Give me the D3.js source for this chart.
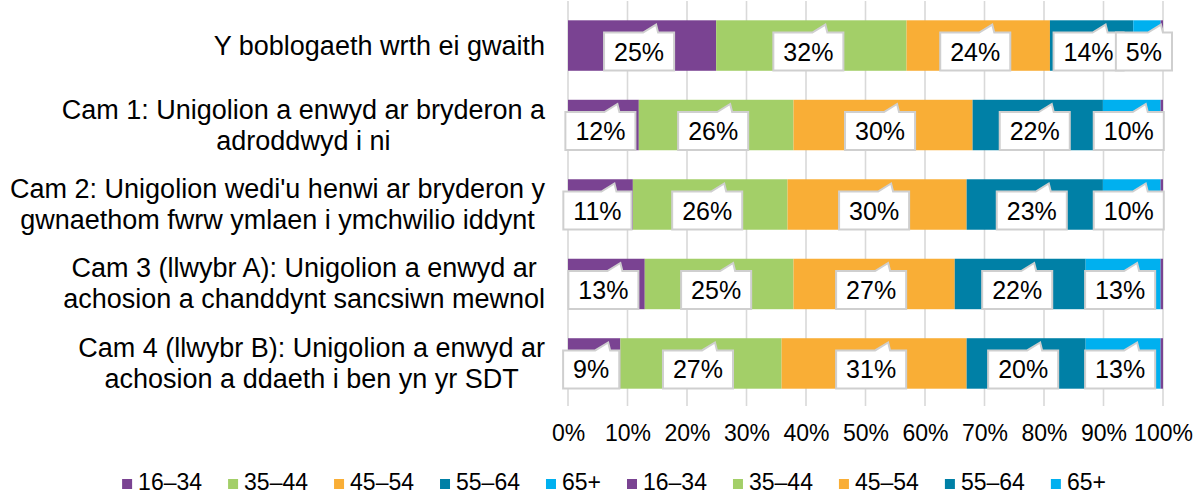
<!DOCTYPE html>
<html>
<head>
<meta charset="utf-8">
<script src="https://cdn.jsdelivr.net/npm/d3@7"></script>
<style>
  body { margin: 0; background: #fff; }
  svg { display: block; font-family: "Liberation Sans", Arial, sans-serif; }
</style>
</head>
<body>
<div id="chart"></div>
<script>
// categories (each entry is the wrapped lines of the label)
var categories = [
  ["Y boblogaeth wrth ei gwaith"],
  ["Cam 1: Unigolion a enwyd ar bryderon a", "adroddwyd i ni"],
  ["Cam 2: Unigolion wedi'u henwi ar bryderon y", "gwnaethom fwrw ymlaen i ymchwilio iddynt"],
  ["Cam 3 (llwybr A): Unigolion a enwyd ar", "achosion a chanddynt sancsiwn mewnol"],
  ["Cam 4 (llwybr B): Unigolion a enwyd ar", "achosion a ddaeth i ben yn yr SDT"]
];

var ageGroups = ["16–34", "35–44", "45–54", "55–64", "65+"];

// share of each stage by age group (%)
var share1634 = [24.9, 11.9, 10.9, 12.9, 8.8];
var share3544 = [32.0, 26.0, 26.0, 25.0, 27.1];
var share4554 = [24.1, 30.1, 30.1, 27.1, 31.1];
var share5564 = [14.0, 21.9, 22.9, 22.0, 20.0];
var share65   = [4.6, 9.7, 9.7, 12.6, 12.6];
// second copy of the series (only the first one shows, as a thin sliver)
var second1634 = [0.4, 0.4, 0.4, 0.4, 0.4];
var second3544 = [0, 0, 0, 0, 0];
var second4554 = [0, 0, 0, 0, 0];
var second5564 = [0, 0, 0, 0, 0];
var second65   = [0, 0, 0, 0, 0];

var xTicks = [0, 10, 20, 30, 40, 50, 60, 70, 80, 90, 100];
var colors = ["#7a4392", "#a3cf68", "#f9ae36", "#0080a6", "#00b0ef"];

var W = 1201, H = 498;
var plotLeft = 568, plotRight = 1163, plotTop = 6, plotBottom = 403;

var seriesKeys = ["a0", "a1", "a2", "a3", "a4", "b0", "b1", "b2", "b3", "b4"];
var seriesArrays = [share1634, share3544, share4554, share5564, share65,
                    second1634, second3544, second4554, second5564, second65];
var legendNames = ageGroups.concat(ageGroups);
var seriesColor = d3.scaleOrdinal().domain(seriesKeys).range(colors.concat(colors));

var table = categories.map(function(c, i) {
  var row = { idx: i };
  seriesKeys.forEach(function(k, j) { row[k] = seriesArrays[j][i]; });
  return row;
});

var layers = d3.stack().keys(seriesKeys)(table);

var x = d3.scaleLinear().domain([0, 100]).range([plotLeft, plotRight]);
var y = d3.scaleBand().domain(d3.range(categories.length))
  .range([plotTop, plotBottom]).paddingInner(0.365).paddingOuter(0.18);

var svg = d3.select("#chart").append("svg")
  .attr("width", W)
  .attr("height", H);

/* gridlines */
svg.append("g")
  .selectAll("line")
  .data(xTicks)
  .enter().append("line")
  .attr("x1", function(d) { return x(d); })
  .attr("x2", function(d) { return x(d); })
  .attr("y1", 1)
  .attr("y2", 406)
  .attr("stroke", "#d9d9d9")
  .attr("stroke-width", 1.6);

/* bars */
svg.append("g")
  .selectAll("g")
  .data(layers)
  .enter().append("g")
  .attr("fill", function(d) { return seriesColor(d.key); })
  .selectAll("rect")
  .data(function(d) { return d; })
  .enter().append("rect")
  .attr("x", function(d) { return x(d[0]); })
  .attr("width", function(d) { return Math.max(0, x(d[1]) - x(d[0])); })
  .attr("y", function(d) { return y(d.data.idx); })
  .attr("height", y.bandwidth());

/* x tick labels */
var axis = svg.append("g")
  .attr("transform", "translate(0,441)")
  .call(d3.axisBottom(x).tickValues(xTicks).tickSize(0).tickPadding(0)
    .tickFormat(function(d) { return d + "%"; }));
axis.select(".domain").remove();
axis.selectAll("text")
  .attr("dy", 0)
  .attr("y", 0)
  .attr("fill", "#000")
  .style("font-family", "Liberation Sans, Arial, sans-serif")
  .style("font-size", "23px");

/* category labels: block right-aligned, lines centred */
var catG = svg.append("g").style("font-size", "27px").attr("fill", "#000");
categories.forEach(function(lines, i) {
  var g = catG.append("g");
  var cy = y(i) + y.bandwidth() / 2;
  var lh = 31;
  var t = g.selectAll("text").data(lines).enter().append("text")
    .attr("text-anchor", "middle")
    .attr("y", function(d, j) { return cy + 9 + (j - (lines.length - 1) / 2) * lh; })
    .text(function(d) { return d; });
  var maxW = 0;
  t.each(function() { maxW = Math.max(maxW, this.getComputedTextLength()); });
  var cx = Math.max(545 - maxW / 2, 9 + maxW / 2);
  t.attr("x", cx);
});

/* data callouts for the first five series */
var callouts = [];
layers.slice(0, 5).forEach(function(layer) {
  layer.forEach(function(d) {
    callouts.push({ x0: d[0], x1: d[1], v: d[1] - d[0], idx: d.data.idx });
  });
});

var cg = svg.append("g").style("font-size", "25px");
callouts.forEach(function(c) {
  var cx = x((c.x0 + c.x1) / 2) - 3;
  var cy = y(c.idx) + y.bandwidth() / 2 + 6;
  var g = cg.append("g");
  var txt = g.append("text")
    .attr("x", cx)
    .attr("y", cy + 9)
    .attr("text-anchor", "middle")
    .text(Math.round(c.v) + "%");
  var tw = txt.node().getComputedTextLength();
  var bw = tw + 20, bh = 38;
  var l = cx - bw / 2, r = cx + bw / 2, t = cy - bh / 2, b = cy + bh / 2;
  var p = d3.path();
  p.moveTo(l, t);
  p.lineTo(cx + 4, t);
  p.lineTo(cx + 17, t - 8);
  p.lineTo(cx + 19, t);
  p.lineTo(r, t);
  p.lineTo(r, b);
  p.lineTo(l, b);
  p.closePath();
  g.insert("path", "text")
    .attr("d", p.toString())
    .attr("fill", "#fff")
    .attr("stroke", "#cfcfcf")
    .attr("stroke-width", 2)
    .attr("stroke-linejoin", "miter");
});

/* legend */
var legend = svg.append("g").style("font-size", "23px");
var items = legend.selectAll("g")
  .data(seriesKeys)
  .enter().append("g");
items.append("rect")
  .attr("width", 10)
  .attr("height", 10)
  .attr("y", 479)
  .attr("fill", function(d) { return seriesColor(d); });
items.append("text")
  .attr("x", 16)
  .attr("y", 490)
  .text(function(d, i) { return legendNames[i]; });
var offs = [], cur = 0;
items.each(function() {
  offs.push(cur);
  cur += 16 + d3.select(this).select("text").node().getComputedTextLength() + 26;
});
var total = cur - 26;
var start = 614 - total / 2;
items.attr("transform", function(d, i) { return "translate(" + (start + offs[i]) + ",0)"; });
</script>
</body>
</html>
